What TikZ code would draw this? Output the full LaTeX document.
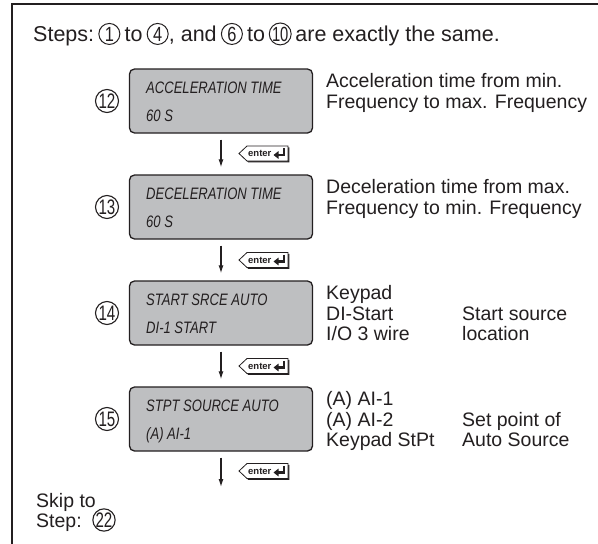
\documentclass[tikz,border=0pt]{standalone}
\usepackage{fontspec}
\usepackage{graphicx}
\setmainfont{Liberation Sans}
\usetikzlibrary{arrows.meta}
\definecolor{lcdgray}{RGB}{190,191,193}
\definecolor{ink}{RGB}{35,31,32}
\newcommand\lcdstr[1]{\scalebox{0.67}[0.85]{#1}}
\newcommand\cdig[1]{\scalebox{0.8}[1]{#1}}
\newcommand\enterkey[2]{%
  \node[keybox] (#1) at (#2) {};
  \begin{scope}[shift={(#1.center)}]
    \fill[ink] (-23.2,1.3) -- (-15.2,-6.2) -- (25.8,-6.2) -- (25.8,8.8) -- (-15.2,8.8) -- cycle;
    \filldraw[fill=white, draw=ink, line width=0.8pt] (-24.5,0) -- (-16.5,-7.5) -- (24.5,-7.5) -- (24.5,7.5) -- (-16.5,7.5) -- cycle;
    \node[font=\bfseries\fontsize{9.5}{9.5}\selectfont, text=ink, inner sep=0pt, anchor=base west] (#1t) at (-15.5,3.3) {enter};
    \draw[ink, line width=2.2pt, -{Triangle[length=5pt,width=7.5pt]}] (20.5,-5.2) -- (20.5,1.5) -- (10,1.5);
  \end{scope}}
\begin{document}
\begin{tikzpicture}[x=1pt,y=-1pt,
  txt/.style={font=\fontsize{19.5}{21}\selectfont, text=ink, inner sep=0pt, anchor=base west},
  htxt/.style={font=\fontsize{21.5}{23}\selectfont, text=ink, inner sep=0pt, anchor=base west},
  lcdtxt/.style={font=\itshape\fontsize{19.5}{21}\selectfont, text=ink, inner sep=0pt, anchor=base west},
  lcd/.style={draw=ink, line width=1.3pt, fill=lcdgray, rounded corners=5pt, minimum width=183pt, minimum height=64pt, inner sep=0pt},
  stepnum/.style={circle, draw=ink, line width=1.1pt, inner sep=0pt, minimum size=23pt, font=\fontsize{21}{21}\selectfont, text=ink},
  hnum/.style={circle, draw=ink, line width=1pt, inner sep=0pt, minimum size=21pt, font=\fontsize{20.5}{20.5}\selectfont, text=ink, anchor=base},
  flow/.style={draw=ink, line width=1.2pt, -{Latex[length=8pt,width=5pt]}, shorten <=6pt, shorten >=7pt},
  frame/.style={draw=ink, line width=1.3pt},
  keybox/.style={minimum width=49pt, minimum height=15pt, inner sep=0pt}
]
\useasboundingbox (0,0) rectangle (598,544);
\fill[white] (0,0) rectangle (598,544);
\draw[frame] (12,546) -- (12,4) -- (600,4);

% header
\node[htxt] (h1) at (33,41) {Steps:};
\node[hnum, xshift=15pt] (h2) at (h1.base east) {\cdig{1}};
\node[htxt, xshift=15pt] (h3) at (h2.base) {to};
\node[hnum, xshift=15pt] (h4) at (h3.base east) {\cdig{4}};
\node[htxt, xshift=11pt] (h5) at (h4.base) {, and};
\node[hnum, xshift=15pt] (h6) at (h5.base east) {\cdig{6}};
\node[htxt, xshift=15pt] (h7) at (h6.base) {to};
\node[hnum, xshift=15pt] (h8) at (h7.base east) {\scalebox{0.72}[1]{10}};
\node[htxt, xshift=15pt] (h9) at (h8.base) {are exactly the same.};

% LCD boxes
\node[lcd] (b12) at (221,101) {};
\node[lcd] (b13) at (221,207) {};
\node[lcd] (b14) at (221,313) {};
\node[lcd] (b15) at (221,419) {};

\node[lcdtxt] (l12a) at (146,93) {\lcdstr{ACCELERATION TIME}};
\node[lcdtxt] (l12b) at (146,121) {\lcdstr{60 S}};
\node[lcdtxt] (l13a) at (146,199) {\lcdstr{DECELERATION TIME}};
\node[lcdtxt] (l13b) at (146,227) {\lcdstr{60 S}};
\node[lcdtxt] (l14a) at (146,305) {\lcdstr{START SRCE AUTO}};
\node[lcdtxt] (l14b) at (146,333) {\lcdstr{DI-1 START}};
\node[lcdtxt] (l15a) at (146,411) {\lcdstr{STPT SOURCE AUTO}};
\node[lcdtxt] (l15b) at (146,439) {\lcdstr{(A) AI-1}};

% step numbers
\node[stepnum] (c12) at (107,101) {\scalebox{0.72}[1]{12}};
\node[stepnum] (c13) at (107,207) {\scalebox{0.72}[1]{13}};
\node[stepnum] (c14) at (107,313) {\scalebox{0.72}[1]{14}};
\node[stepnum] (c15) at (107,419) {\scalebox{0.72}[1]{15}};

% descriptions
\node[txt] (d12a) at (326,87) {Acceleration time from min.};
\node[txt] (d12b) at (326,108) {Frequency to max. Frequency};
\node[txt] (d13a) at (326,193) {Deceleration time from max.};
\node[txt] (d13b) at (326,214) {Frequency to min. Frequency};
\node[txt] (d14a) at (326,299.5) {Keypad};
\node[txt] (d14b) at (326,320) {DI-Start};
\node[txt] (d14c) at (326,340.5) {I/O 3 wire};
\node[txt] (d14d) at (462,320) {Start source};
\node[txt] (d14e) at (462,340.5) {location};
\node[txt] (d15a) at (326,405.5) {(A) AI-1};
\node[txt] (d15b) at (326,426) {(A) AI-2};
\node[txt] (d15c) at (326,446.5) {Keypad StPt};
\node[txt] (d15d) at (462,426) {Set point of};
\node[txt] (d15e) at (462,446.5) {Auto Source};

% arrows
\coordinate (endpt) at (221,494);
\draw[flow] (b12.south) -- (b13.north);
\draw[flow] (b13.south) -- (b14.north);
\draw[flow] (b14.south) -- (b15.north);
\draw[flow] (b15.south) -- (endpt);

% enter keys
\enterkey{e1}{263.5,153.5}
\enterkey{e2}{263.5,260}
\enterkey{e3}{263.5,366}
\enterkey{e4}{263.5,471}

% skip
\node[txt] (s1) at (36,507) {Skip to};
\node[txt] (s2) at (36,527) {Step:};
\node[stepnum, minimum size=22pt] (c22) at (104,520) {\scalebox{0.72}[1]{22}};
\end{tikzpicture}
\end{document}
